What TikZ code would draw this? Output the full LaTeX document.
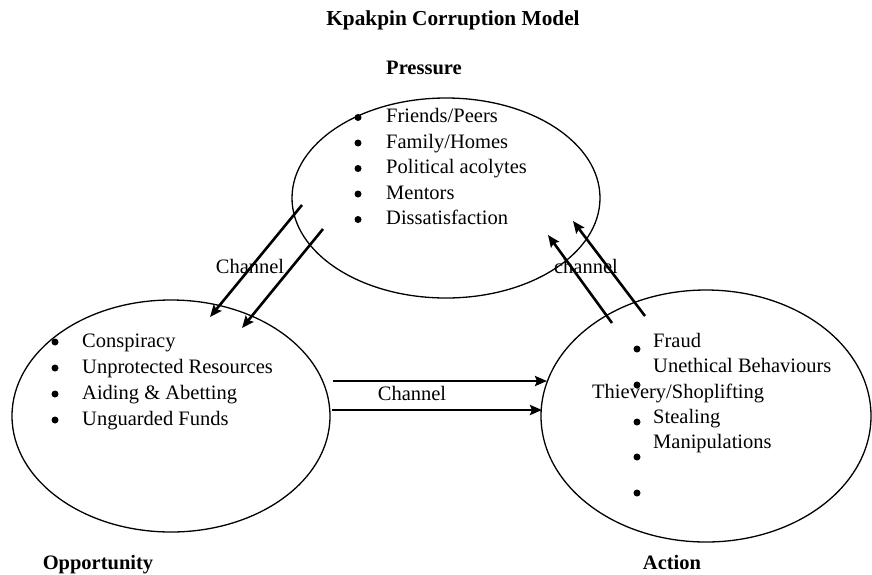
\documentclass[tikz,border=0pt]{standalone}
\usepackage{fontspec}
\setmainfont{Liberation Serif}
\usetikzlibrary{arrows.meta,shapes.geometric}

\tikzset{
  zone/.style={draw, ellipse, line width=1.3pt, inner sep=0pt},
  item/.style={anchor=west, inner sep=0pt, text height=14pt, text depth=4pt,
    font=\fontsize{20.5}{24}\selectfont},
  dot/.style={circle, fill, inner sep=0pt, minimum size=7pt},
  heading/.style={anchor=base, inner sep=0pt, font=\fontsize{20.5}{24}\selectfont\bfseries},
  channel/.style={line width=2.6pt, -{Stealth[length=12pt,width=10pt,inset=2pt]}}
}

\begin{document}
\begin{tikzpicture}[x=1pt,y=-1pt]
      \useasboundingbox (0,0) rectangle (872,574);

      % title and headings
      \node[heading, font=\fontsize{21.3}{24}\selectfont\bfseries] (title) at (453,25) {Kpakpin Corruption Model};
      \node[heading] (presslbl) at (424,74) {Pressure};
      \node[heading] (opplbl) at (98,569) {Opportunity};
      \node[heading] (actlbl) at (672,569) {Action};

      % ellipses
      \node[zone, minimum width=308pt, minimum height=200pt] (pressure) at (446,198) {};
      \node[zone, minimum width=318pt, minimum height=232pt] (opportunity) at (171,416) {};
      \node[zone, minimum width=330pt, minimum height=252pt] (action) at (706,416) {};

      % pressure items
      \foreach \t [count=\i] in {{Friends/Peers}, {Family/Homes}, {Political acolytes}, {Mentors}, {Dissatisfaction}} {
        \node[dot] (pb\i) at (358,92+25.5*\i) {};
        \node[item] (pi\i) at (386,92+25.5*\i) {\t};
      }

      % opportunity items
      \foreach \t [count=\i] in {Conspiracy, Unprotected Resources, {Aiding \& Abetting}, Unguarded Funds} {
        \node[dot] (ob\i) at (55,316+26*\i) {};
        \node[item] (oi\i) at (82,316+26*\i) {\t};
      }

      % action items
      \foreach \y [count=\i] in {349,385,422,457,493} {
        \node[dot] (ab\i) at (637,\y) {};
      }
      \node[item] (ai1) at (653,342) {Fraud};
      \node[item] (ai2) at (653,367) {Unethical Behaviours};
      \node[item] (ai3) at (592,393) {Thievery/Shoplifting};
      \node[item] (ai4) at (653,418) {Stealing};
      \node[item] (ai5) at (653,443) {Manipulations};

      % channel ends
      \coordinate (po1) at (302,205);
      \coordinate (po2) at (323,229);
      \coordinate (op1) at (210,317);
      \coordinate (op2) at (242,328);
      \coordinate (ap1) at (612,323);
      \coordinate (ap2) at (645,316);
      \coordinate (pa1) at (548,235);
      \coordinate (pa2) at (573,221);
      \coordinate (oa1) at (333,381);
      \coordinate (oa2) at (332,410);
      \coordinate (ao1) at (547,381);
      \coordinate (ao2) at (542,410);

      % channels
      \draw[channel] (po1) -- (op1);
      \draw[channel] (po2) -- (op2);
      \draw[channel] (ap1) -- (pa1);
      \draw[channel] (ap2) -- (pa2);
      \draw[channel] (oa1) -- (ao1);
      \draw[channel] (oa2) -- (ao2);

      % channel labels
      \node[item, anchor=center] (ch1) at (250,268) {Channel};
      \node[item, anchor=center] (ch2) at (586,268) {channel};
      \node[item, anchor=center] (ch3) at (412,395) {Channel};
    \end{tikzpicture}
\end{document}
